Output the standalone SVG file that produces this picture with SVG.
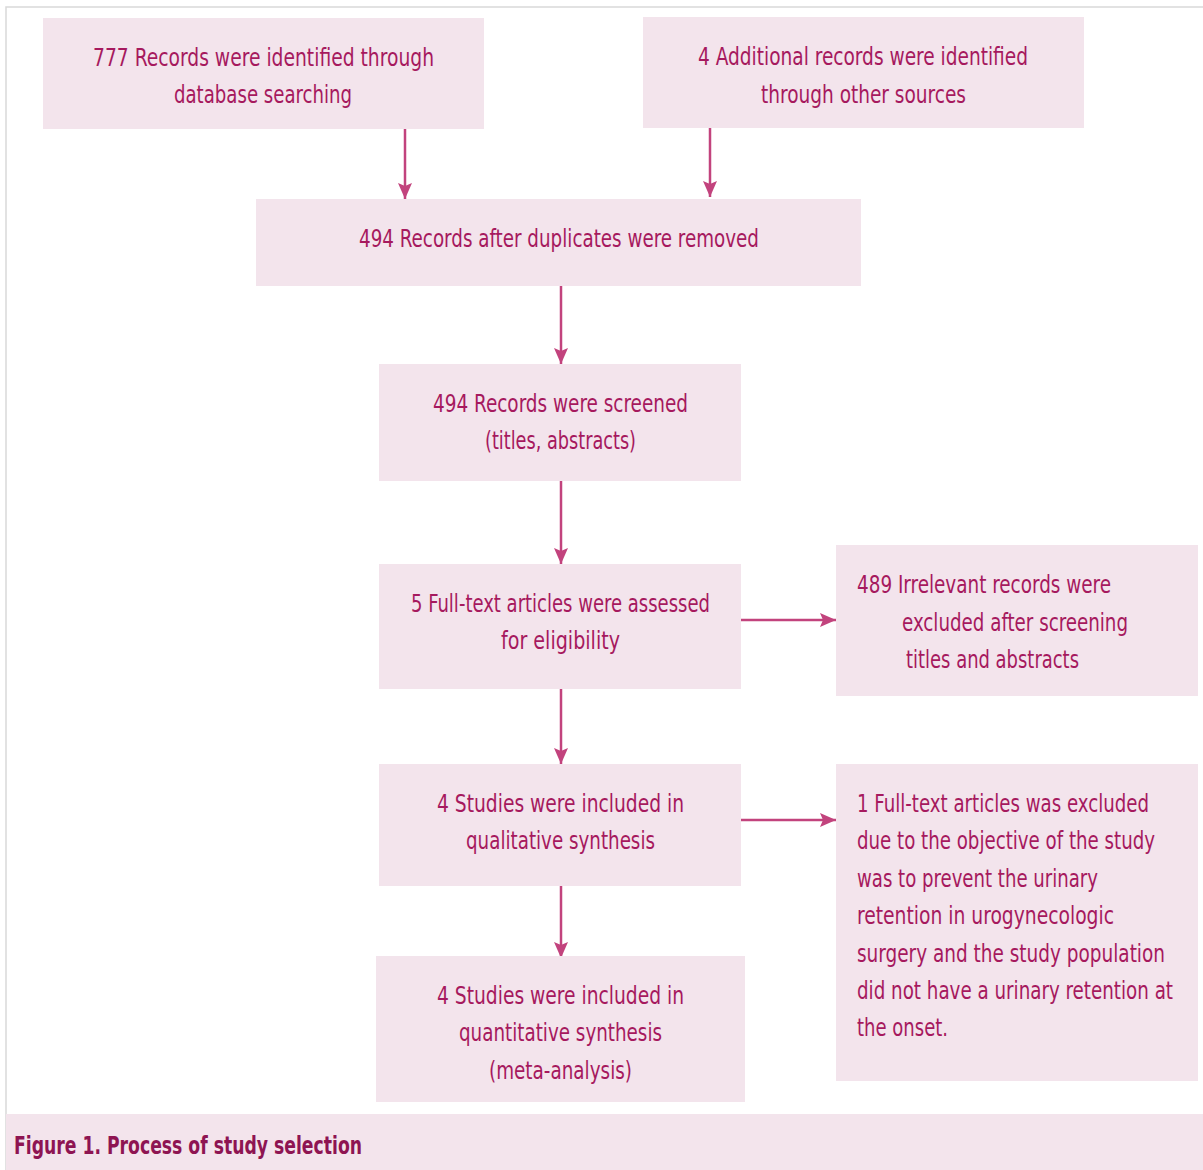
<svg xmlns="http://www.w3.org/2000/svg" width="1203" height="1170" viewBox="0 0 1203 1170">
<style>
.box{fill:#f3e4ec}
.t{font-family:"Liberation Sans Narrow","DejaVu Sans Condensed","Liberation Sans",sans-serif;font-stretch:condensed;font-size:24px;fill:#a6195e}
.cap{font-family:"Liberation Sans Narrow","DejaVu Sans Condensed","Liberation Sans",sans-serif;font-stretch:condensed;font-size:24px;font-weight:bold;fill:#8e1452}
.c{stroke:#c2437d;stroke-width:2.5;fill:none;marker-end:url(#ah)}
</style>
<defs>
<marker id="ah" markerUnits="userSpaceOnUse" markerWidth="18" markerHeight="16" refX="16" refY="7" orient="auto">
<path d="M0,0 L16,7 L0,14 L3,7 z" fill="#c2437d"/>
</marker>
</defs>
<rect x="0" y="0" width="1203" height="1170" fill="#ffffff"/>
<path d="M6,1170 L6,7 L1203,7" fill="none" stroke="#d9d9d9" stroke-width="1.5"/>
<g id="connectors">
<line class="c" x1="405" y1="129" x2="405" y2="199"/>
<line class="c" x1="710" y1="128" x2="710" y2="197"/>
<line class="c" x1="561" y1="286" x2="561" y2="364"/>
<line class="c" x1="561" y1="481" x2="561" y2="564"/>
<line class="c" x1="561" y1="689" x2="561" y2="764"/>
<line class="c" x1="561" y1="886" x2="561" y2="958"/>
<line class="c" x1="741" y1="620" x2="836" y2="620"/>
<line class="c" x1="741" y1="820" x2="836" y2="820"/>
</g>
<g id="n1">
<rect class="box" x="43" y="18" width="441" height="111"/>
<text class="t" x="93" y="66" textLength="341" lengthAdjust="spacingAndGlyphs">777 Records were identified through</text>
<text class="t" x="174" y="103" textLength="178" lengthAdjust="spacingAndGlyphs">database searching</text>
</g>
<g id="n2">
<rect class="box" x="643" y="17" width="441" height="111"/>
<text class="t" x="698" y="65" textLength="330" lengthAdjust="spacingAndGlyphs">4 Additional records were identified</text>
<text class="t" x="761" y="103" textLength="205" lengthAdjust="spacingAndGlyphs">through other sources</text>
</g>
<g id="n3">
<rect class="box" x="256" y="199" width="605" height="87"/>
<text class="t" x="359" y="247" textLength="400" lengthAdjust="spacingAndGlyphs">494 Records after duplicates were removed</text>
</g>
<g id="n4">
<rect class="box" x="379" y="364" width="362" height="117"/>
<text class="t" x="433" y="412" textLength="255" lengthAdjust="spacingAndGlyphs">494 Records were screened</text>
<text class="t" x="485" y="449" textLength="151" lengthAdjust="spacingAndGlyphs">(titles, abstracts)</text>
</g>
<g id="n5">
<rect class="box" x="379" y="564" width="362" height="125"/>
<text class="t" x="411" y="612" textLength="299" lengthAdjust="spacingAndGlyphs">5 Full-text articles were assessed</text>
<text class="t" x="501" y="649" textLength="119" lengthAdjust="spacingAndGlyphs">for eligibility</text>
</g>
<g id="n6">
<rect class="box" x="836" y="545" width="362" height="151"/>
<text class="t" x="857" y="593" textLength="254" lengthAdjust="spacingAndGlyphs">489 Irrelevant records were</text>
<text class="t" x="902" y="631" textLength="226" lengthAdjust="spacingAndGlyphs">excluded after screening</text>
<text class="t" x="906" y="668" textLength="173" lengthAdjust="spacingAndGlyphs">titles and abstracts</text>
</g>
<g id="n7">
<rect class="box" x="379" y="764" width="362" height="122"/>
<text class="t" x="437" y="812" textLength="247" lengthAdjust="spacingAndGlyphs">4 Studies were included in</text>
<text class="t" x="466" y="849" textLength="189" lengthAdjust="spacingAndGlyphs">qualitative synthesis</text>
</g>
<g id="n8">
<rect class="box" x="836" y="764" width="362" height="317"/>
<text class="t" x="857" y="812" textLength="292" lengthAdjust="spacingAndGlyphs">1 Full-text articles was excluded</text>
<text class="t" x="857" y="849" textLength="298" lengthAdjust="spacingAndGlyphs">due to the objective of the study</text>
<text class="t" x="857" y="887" textLength="241" lengthAdjust="spacingAndGlyphs">was to prevent the urinary</text>
<text class="t" x="857" y="924" textLength="257" lengthAdjust="spacingAndGlyphs">retention in urogynecologic</text>
<text class="t" x="857" y="962" textLength="308" lengthAdjust="spacingAndGlyphs">surgery and the study population</text>
<text class="t" x="857" y="999" textLength="316" lengthAdjust="spacingAndGlyphs">did not have a urinary retention at</text>
<text class="t" x="857" y="1036" textLength="91" lengthAdjust="spacingAndGlyphs">the onset.</text>
</g>
<g id="n9">
<rect class="box" x="376" y="956" width="369" height="146"/>
<text class="t" x="437" y="1004" textLength="247" lengthAdjust="spacingAndGlyphs">4 Studies were included in</text>
<text class="t" x="459" y="1041" textLength="203" lengthAdjust="spacingAndGlyphs">quantitative synthesis</text>
<text class="t" x="489" y="1079" textLength="143" lengthAdjust="spacingAndGlyphs">(meta-analysis)</text>
</g>
<g id="caption">
<rect class="box" x="6" y="1114" width="1197" height="56"/>
<text class="cap" x="14" y="1154" textLength="348" lengthAdjust="spacingAndGlyphs">Figure 1. Process of study selection</text>
</g>
</svg>
